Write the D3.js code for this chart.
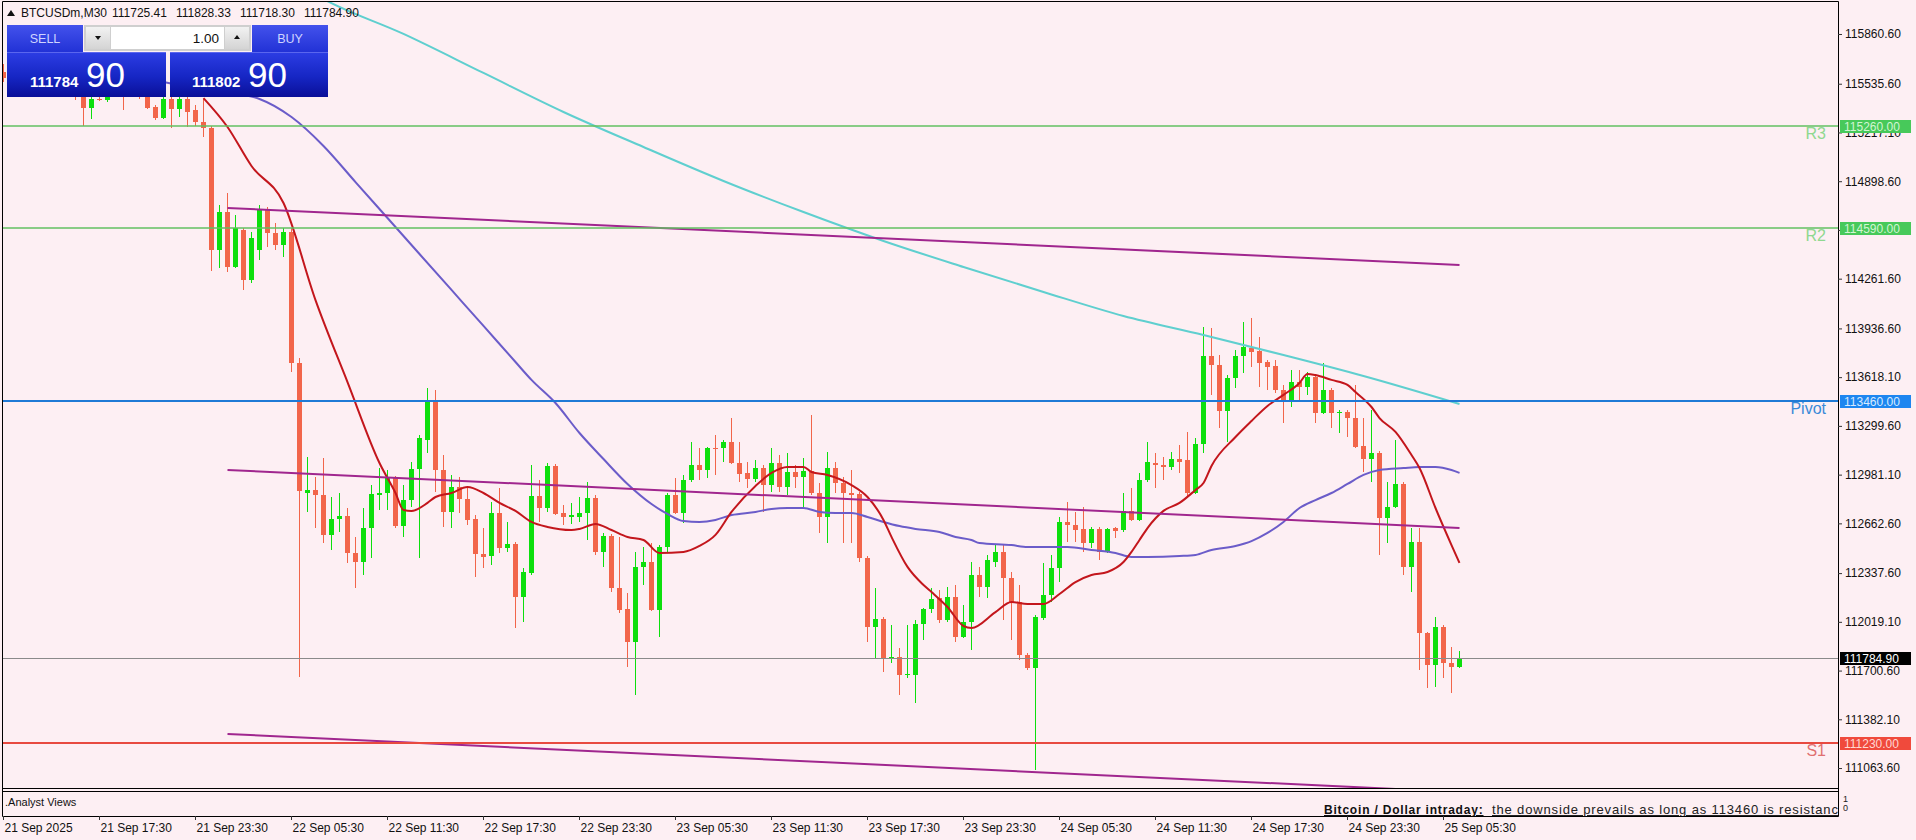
<!DOCTYPE html>
<html><head><meta charset="utf-8">
<script src="https://cdn.jsdelivr.net/npm/d3@7"></script>
<style>
html,body{margin:0;padding:0;background:#fdeff3;overflow:hidden;}
svg{display:block;}
text{font-family:"Liberation Sans",Arial,sans-serif;}
</style></head><body>
<svg id="chart" width="1916" height="840"></svg>
<script>
// ---------------- DATA ----------------
const symbolTitle = "BTCUSDm,M30";
const headerOHLC = ["111725.41","111828.33","111718.30","111784.90"];
const bidPrice = 111784.90;
const bidMain = "111784", bidPips = "90";
const askMain = "111802", askPips = "90";
const lotText = "1.00";

const timeLabels = ["21 Sep 2025","21 Sep 17:30","21 Sep 23:30","22 Sep 05:30","22 Sep 11:30","22 Sep 17:30","22 Sep 23:30","23 Sep 05:30","23 Sep 11:30","23 Sep 17:30","23 Sep 23:30","24 Sep 05:30","24 Sep 11:30","24 Sep 17:30","24 Sep 23:30","25 Sep 05:30"];
const timeLabelBars = [0,12,24,36,48,60,72,84,96,108,120,132,144,156,168,180];

const priceTicks = [115860.6,115535.6,115217.1,114898.6,114580.1,114261.6,113936.6,113618.1,113299.6,112981.1,112662.6,112337.6,112019.1,111700.6,111382.1,111063.6];

const opens = [115612,115573,115534,115560,115521,115547,115508,115495,115521,115482,
115455,115377,115436,115429,115462,115475,115455,115469,115449,115384,
115312,115436,115371,115436,115364,115286,115246,114449,114697,114338,
114580,114253,114449,114710,114560,114482,114567,113711,112861,112881,
112848,112587,112691,112711,112469,112410,112632,112848,112861,112959,
112645,112815,113018,113207,113462,113011,112737,112900,112822,112691,
112462,112449,112730,112502,112528,112182,112338,112842,112763,113038,
112730,112704,112704,112730,112828,112476,112580,112240,112103,111887,
112378,112410,112097,112508,112848,112730,112946,113044,113011,113155,
113155,113194,113057,112992,112953,113024,112913,113057,112900,112998,
112966,113005,112861,112704,113024,112926,112861,112855,112436,111985,
112038,111783,111789,111672,111672,112005,112103,112175,112031,112182,
111920,112018,112325,112247,112410,112476,112306,112149,111802,111717,
112044,112195,112371,112672,112652,112626,112534,112626,112476,112632,
112619,112743,112685,112946,113057,113044,113031,113083,113077,112861,
113181,113756,113698,113397,113613,113756,113809,113789,113717,113691,
113534,113469,113586,113554,113619,113384,113534,113384,113390,113351,
113168,113083,113122,112698,112770,112920,112378,112541,111946,111737,
111985,111750,111725.41];
const highs = [115665,115625,115586,115612,115573,115599,115560,115534,115560,115508,
115482,115462,115455,115482,115508,115495,115495,115495,115469,115397,
115455,115455,115455,115455,115397,115436,115259,114743,114822,114678,
114593,114567,114743,114730,114626,114593,114593,113743,113096,112966,
113090,112835,112861,112763,112574,112763,112913,113024,113011,112972,
112913,113064,113240,113547,113534,113109,112979,112966,112894,112717,
112632,112802,112894,112672,112541,112371,113044,112946,113057,113051,
112783,112796,112835,112933,112848,112600,112593,112574,112208,112476,
112508,112534,112521,112861,112959,112979,113194,113155,113162,113240,
113207,113351,113194,113064,113077,113044,113155,113109,113122,113044,
113090,113371,112926,113129,113064,112966,113011,112868,112449,112240,
112051,111998,111848,111998,112031,112110,112240,112227,112247,112260,
112129,112410,112378,112456,112521,112521,112345,112260,111816,112064,
112404,112456,112704,112802,112737,112770,112639,112639,112632,112639,
112861,112894,112992,113194,113122,113096,113129,113175,113260,113221,
113946,113939,113763,113632,113796,113979,114005,113881,113730,113730,
113567,113665,113665,113652,113632,113711,113547,113404,113404,113567,
113351,113404,113136,112933,113207,112933,112632,112632,111953,112051,
111998,111855,111828.33];
const lows = [115547,115508,115495,115508,115469,115495,115469,115462,115462,115429,
115259,115305,115423,115416,115449,115364,115449,115436,115371,115299,
115305,115246,115318,115253,115259,115188,114312,114331,114305,114331,
114188,114233,114384,114469,114449,114403,113652,111659,112737,112632,
112534,112489,112606,112404,112240,112325,112436,112750,112750,112632,
112574,112770,112436,113122,112868,112639,112632,112730,112652,112312,
112371,112391,112469,112476,111979,112018,112325,112672,112737,112717,
112652,112659,112672,112554,112456,112378,112214,112077,111724,111541,
112260,112090,111920,112476,112724,112665,112933,112946,112959,112979,
113064,113051,112933,112894,112933,112737,112868,112868,112848,112894,
112770,112848,112600,112534,112861,112534,112534,112410,111887,111783,
111691,111750,111541,111652,111489,111900,112077,112012,112018,111887,
111914,111835,112182,112175,112378,112031,111900,111770,111704,111051,
112031,112149,112279,112541,112541,112476,112502,112423,112469,112567,
112606,112678,112678,112933,112894,112946,113011,112992,112828,112855,
113122,113502,113286,113194,113547,113645,113685,113554,113534,113515,
113319,113423,113469,113502,113319,113377,113286,113253,113227,113155,
112998,112933,112456,112534,112763,112325,112214,111704,111587,111593,
111652,111554,111718.30];
const closes = [115573,115534,115560,115521,115547,115508,115495,115521,115482,115469,
115377,115436,115429,115462,115475,115455,115469,115455,115377,115312,
115436,115371,115436,115351,115286,115246,114449,114697,114338,114593,
114253,114528,114710,114560,114482,114567,113711,112874,112881,112848,
112587,112691,112711,112469,112410,112632,112855,112861,112959,112645,
112815,113018,113221,113462,113011,112737,112900,112822,112685,112462,
112443,112730,112502,112528,112182,112345,112842,112763,113038,112724,
112704,112717,112730,112828,112476,112580,112240,112097,111887,112378,
112410,112097,112508,112848,112730,112946,113044,113011,113155,113149,
113194,113057,112985,112953,113024,112913,113057,112900,112998,112966,
113005,112861,112704,113024,112926,112861,112848,112436,111985,112038,
111783,111789,111672,111678,112005,112103,112168,112031,112182,111920,
112018,112325,112247,112423,112476,112306,112149,111802,111717,112051,
112195,112371,112672,112652,112619,112534,112626,112476,112626,112613,
112743,112685,112946,113064,113044,113031,113083,113064,112861,113181,
113756,113698,113397,113613,113756,113815,113783,113711,113685,113534,
113469,113586,113554,113619,113384,113534,113384,113390,113351,113162,
113083,113122,112698,112770,112920,112378,112541,111946,111737,111985,
111750,111724,111784.90];

// moving averages: [bar index, price]
const maFast = [[25,115442],[28,115253],[31,114998],[35,114756],[39,114122],[43,113586],[47,113057],[49,112861],[50,112750],[51,112744],[53,112796],[54,112835],[56,112861],[58,112900],[60,112861],[62,112796],[64,112744],[66,112672],[68,112639],[71,112619],[72,112626],[74,112659],[76,112619],[78,112574],[80,112554],[82,112469],[85,112476],[87,112515],[89,112587],[91,112737],[94,112907],[96,112992],[98,113031],[100,113031],[101,112998],[103,112979],[106,112913],[108,112835],[110,112685],[111,112574],[113,112378],[115,112260],[116,112214],[118,112116],[120,111992],[121,111979],[124,112083],[126,112149],[128,112136],[130,112136],[132,112201],[134,112279],[136,112325],[138,112345],[140,112410],[141,112476],[142,112554],[143,112632],[145,112744],[147,112796],[149,112881],[150,112926],[151,113038],[154,113227],[156,113332],[158,113430],[160,113502],[162,113580],[163,113639],[164,113632],[166,113600],[168,113567],[169,113521],[171,113423],[172,113351],[174,113260],[176,113109],[177,113024],[179,112763],[181,112521],[182,112404]];
const maMid = [[20,115547],[24,115508],[28,115475],[32,115436],[36,115318],[40,115129],[44,114893],[48,114658],[52,114423],[56,114188],[60,113953],[64,113717],[66,113600],[69,113449],[72,113253],[75,113083],[78,112920],[81,112789],[83,112724],[85,112678],[87,112672],[89,112685],[91,112717],[94,112737],[96,112757],[98,112763],[100,112763],[102,112737],[104,112730],[106,112730],[108,112704],[110,112672],[112,112645],[114,112626],[117,112606],[119,112574],[121,112554],[122,112534],[126,112521],[128,112508],[133,112508],[136,112489],[139,112469],[141,112443],[143,112443],[147,112449],[149,112456],[151,112489],[154,112515],[156,112547],[158,112600],[160,112672],[162,112763],[164,112815],[166,112861],[168,112920],[170,112979],[172,113011],[175,113024],[177,113031],[179,113031],[181,113011],[182,112992]];
const maSlow = [[35,116246],[40,116089],[50,115861],[60,115606],[70,115351],[80,115122],[90,114900],[100,114697],[110,114508],[120,114338],[130,114175],[140,114018],[150,113894],[160,113763],[170,113626],[182,113443]];

// regression channel (start bar, price) -> (end bar, price)
const channelUpper = [[28,114724],[182,114351]];
const channelMiddle = [[28,113012],[182,112633]];
const channelLower = [[28,111286],[182,110907]];

const levelNames = ["R3","R2","Pivot","S1"];
const levelValues = [115260,114590,113460,111230];
const levelColors = ["#62c062","#62c062","#1f7ad6","#e84a40"];
const levelTextColors = ["#8fd88f","#8fd88f","#3b8ad8","#e07070"];
const levelBoxColors = ["#47c95a","#47c95a","#1e86f0","#f04a3c"];
const levelBoxText = ["#d2f5d2","#d2f5d2","#d6eaff","#ffd8d2"];

const subTitle = ".Analyst Views";
const commentBold = "Bitcoin / Dollar intraday:";
const commentText = "the downside prevails as long as 113460 is resistance";

// ---------------- LAYOUT ----------------
const W = 1916, H = 840;
const L = 3, R = 1838, T = 2, B = 788;
const subTop = 791, subBot = 816;
const bg = "#fdeff3";
const bullColor = "#0ddf0d", bearColor = "#f2654a";

const svg = d3.select("#chart");
const x = d3.scaleLinear().domain([0, (R - L) / 8]).range([L, R]);
const y = d3.scaleLinear().domain([110933.2, 116069.7]).range([B, T]);
const fmt = d3.format(".2f");

svg.append("rect").attr("width", W).attr("height", H).attr("fill", bg);

const defs = svg.append("defs");
defs.append("clipPath").attr("id", "plotClip").append("rect")
  .attr("x", L).attr("y", T).attr("width", R - L).attr("height", B - T);
defs.append("clipPath").attr("id", "subClip").append("rect")
  .attr("x", L).attr("y", subTop).attr("width", R - L).attr("height", subBot - subTop);
const g1 = defs.append("linearGradient").attr("id", "btnGrad").attr("x1", 0).attr("x2", 0).attr("y1", 0).attr("y2", 1);
g1.append("stop").attr("offset", "0%").attr("stop-color", "#4352ec");
g1.append("stop").attr("offset", "100%").attr("stop-color", "#2232d6");
const g2 = defs.append("linearGradient").attr("id", "boxGrad").attr("x1", 0).attr("x2", 0).attr("y1", 0).attr("y2", 1);
g2.append("stop").attr("offset", "0%").attr("stop-color", "#2c3de4");
g2.append("stop").attr("offset", "55%").attr("stop-color", "#1626c4");
g2.append("stop").attr("offset", "100%").attr("stop-color", "#0a0f98");
const g3 = defs.append("linearGradient").attr("id", "spinGrad").attr("x1", 0).attr("x2", 0).attr("y1", 0).attr("y2", 1);
g3.append("stop").attr("offset", "0%").attr("stop-color", "#f2f2f2");
g3.append("stop").attr("offset", "100%").attr("stop-color", "#d4d4d4");

const plot = svg.append("g").attr("clip-path", "url(#plotClip)");

// candles
const bars = d3.range(opens.length).map(i => ({i, o: opens[i], h: highs[i], l: lows[i], c: closes[i]}));
const cg = plot.append("g");
bars.forEach(d => {
  const cx = Math.round(x(d.i));
  const col = d.c >= d.o ? bullColor : bearColor;
  const yh = Math.round(y(d.h)), yl = Math.round(y(d.l));
  cg.append("rect").attr("x", cx).attr("y", yh).attr("width", 1).attr("height", Math.max(1, yl - yh)).attr("fill", col);
  const yo = Math.round(y(d.o)), yc = Math.round(y(d.c));
  const top = Math.min(yo, yc), hgt = Math.max(1, Math.abs(yo - yc));
  cg.append("rect").attr("x", cx - 2).attr("y", top).attr("width", 5).attr("height", hgt).attr("fill", col);
});

// moving averages
const maLine = d3.line().x(d => x(d[0]) + 0.5).y(d => y(d[1])).curve(d3.curveMonotoneX);
plot.append("path").datum(maSlow).attr("d", maLine).attr("fill", "none").attr("stroke", "#5fcfcf").attr("stroke-width", 2);
plot.append("path").datum(maMid).attr("d", maLine).attr("fill", "none").attr("stroke", "#6b5cc9").attr("stroke-width", 2);
plot.append("path").datum(maFast).attr("d", maLine).attr("fill", "none").attr("stroke", "#c3161c").attr("stroke-width", 2);

// channel lines
const straight = d3.line().x(d => x(d[0]) + 0.5).y(d => y(d[1]));
[channelUpper, channelMiddle, channelLower].forEach(c => {
  plot.append("path").datum(c).attr("d", straight).attr("fill", "none").attr("stroke", "#a0268e").attr("stroke-width", 2);
});

// horizontal levels
levelValues.forEach((v, i) => {
  const yy = Math.round(y(v));
  plot.append("line").attr("x1", L).attr("x2", R).attr("y1", yy).attr("y2", yy)
    .attr("stroke", levelColors[i]).attr("stroke-width", i < 2 ? 1.5 : 2);
  svg.append("text").attr("x", 1826).attr("y", yy + 13).attr("text-anchor", "end")
    .attr("font-size", 16).attr("fill", levelTextColors[i]).text(levelNames[i]);
});
// bid line
const yb = Math.round(y(bidPrice)) + 0.5;
plot.append("line").attr("x1", L).attr("x2", R).attr("y1", yb).attr("y2", yb).attr("stroke", "#8a8a8a").attr("stroke-width", 1);

// frame
const frame = svg.append("g").attr("fill", "none").attr("stroke", "#000").attr("stroke-width", 1);
frame.append("line").attr("x1", 2.5).attr("x2", 2.5).attr("y1", 1.5).attr("y2", subBot + 0.5);
frame.append("line").attr("x1", 2.5).attr("x2", R + 0.5).attr("y1", 1.5).attr("y2", 1.5);
frame.append("line").attr("x1", 2.5).attr("x2", R + 0.5).attr("y1", B + 0.5).attr("y2", B + 0.5);
frame.append("line").attr("x1", 2.5).attr("x2", R + 0.5).attr("y1", subTop + 0.5).attr("y2", subTop + 0.5);
frame.append("line").attr("x1", 2.5).attr("x2", R + 0.5).attr("y1", subBot + 0.5).attr("y2", subBot + 0.5);

// price axis
const yAxis = d3.axisRight(y).tickValues(priceTicks).tickFormat(fmt).tickSize(4).tickPadding(3);
const ya = svg.append("g").attr("transform", `translate(${R},0)`).call(yAxis);
ya.select(".domain").attr("d", `M0.5,1.5V${subBot + 0.5}`).attr("stroke", "#000");
ya.selectAll("text").attr("font-size", 12).attr("font-family", "Liberation Sans, Arial, sans-serif").attr("fill", "#111");
ya.selectAll(".tick line").attr("stroke", "#333");

// level price boxes
levelValues.forEach((v, i) => {
  const yy = Math.round(y(v));
  svg.append("rect").attr("x", R + 2).attr("y", yy - 6).attr("width", 71).attr("height", 13).attr("fill", levelBoxColors[i]);
  svg.append("text").attr("x", R + 6).attr("y", yy + 5).attr("font-size", 12).attr("fill", levelBoxText[i]).text(fmt(v));
});
svg.append("rect").attr("x", R + 2).attr("y", yb - 6.5).attr("width", 71).attr("height", 13).attr("fill", "#000");
svg.append("text").attr("x", R + 6).attr("y", yb + 4.5).attr("font-size", 12).attr("fill", "#fff").text(fmt(bidPrice));

// sub window
svg.append("text").attr("x", 5).attr("y", 806).attr("font-size", 11).attr("fill", "#111").text(subTitle);
const sub = svg.append("g").attr("clip-path", "url(#subClip)");
sub.append("text").attr("x", 1324).attr("y", 814).attr("font-size", 12).attr("font-weight", "bold")
  .attr("letter-spacing", "0.8px")
  .attr("fill", "#111").attr("text-decoration", "underline").text(commentBold);
sub.append("text").attr("x", 1492).attr("y", 814).attr("font-size", 13).attr("fill", "#222")
  .attr("letter-spacing", "0.85px")
  .attr("text-decoration", "underline").text(commentText);
svg.append("text").attr("x", 1843).attr("y", 802).attr("font-size", 9).attr("fill", "#222").text("1");
svg.append("text").attr("x", 1843).attr("y", 811).attr("font-size", 9).attr("fill", "#222").text("0");

// time axis
const xAxis = d3.axisBottom(x).tickValues(timeLabelBars).tickFormat((d, i) => timeLabels[i]).tickSize(4).tickPadding(3);
const xa = svg.append("g").attr("transform", `translate(0,${subBot})`).call(xAxis);
xa.select(".domain").remove();
xa.selectAll("text").attr("font-size", 12).attr("font-family", "Liberation Sans, Arial, sans-serif")
  .attr("fill", "#111").attr("text-anchor", "start").attr("dx", 1);
xa.selectAll(".tick line").attr("stroke", "#333");

// header
svg.append("path").attr("d", "M7,16L11,10L15,16Z").attr("fill", "#111");
svg.append("text").attr("x", 21).attr("y", 17).attr("font-size", 12).attr("fill", "#111").text(symbolTitle);
const hdrX = [112, 176, 240, 304];
headerOHLC.forEach((t, i) => svg.append("text").attr("x", hdrX[i]).attr("y", 17).attr("font-size", 12).attr("fill", "#111").text(t));

// one-click trading panel
const p = svg.append("g");
p.append("rect").attr("x", 7).attr("y", 25).attr("width", 76).attr("height", 27).attr("fill", "url(#btnGrad)");
p.append("rect").attr("x", 252).attr("y", 25).attr("width", 76).attr("height", 27).attr("fill", "url(#btnGrad)");
p.append("text").attr("x", 45).attr("y", 43).attr("text-anchor", "middle").attr("font-size", 12.5).attr("fill", "#cfd4ff").text("SELL");
p.append("text").attr("x", 290).attr("y", 43).attr("text-anchor", "middle").attr("font-size", 12.5).attr("fill", "#cfd4ff").text("BUY");
p.append("rect").attr("x", 84).attr("y", 25).attr("width", 167).attr("height", 26).attr("fill", "#cfcfcf");
p.append("rect").attr("x", 86).attr("y", 27).attr("width", 24).attr("height", 22).attr("fill", "url(#spinGrad)");
p.append("rect").attr("x", 225).attr("y", 27).attr("width", 24).attr("height", 22).attr("fill", "url(#spinGrad)");
p.append("rect").attr("x", 111).attr("y", 27).attr("width", 113).attr("height", 22).attr("fill", "#ffffff");
p.append("path").attr("d", "M95,36L101,36L98,40Z").attr("fill", "#111");
p.append("path").attr("d", "M234,39L240,39L237,35Z").attr("fill", "#111");
p.append("text").attr("x", 219).attr("y", 43).attr("text-anchor", "end").attr("font-size", 13.5).attr("fill", "#111").text(lotText);
p.append("rect").attr("x", 7).attr("y", 52).attr("width", 159).attr("height", 45).attr("fill", "url(#boxGrad)");
p.append("rect").attr("x", 170).attr("y", 52).attr("width", 158).attr("height", 45).attr("fill", "url(#boxGrad)");
p.append("line").attr("x1", 7).attr("x2", 166).attr("y1", 52.5).attr("y2", 52.5).attr("stroke", "#5a66ee");
p.append("line").attr("x1", 170).attr("x2", 328).attr("y1", 52.5).attr("y2", 52.5).attr("stroke", "#5a66ee");
p.append("text").attr("x", 30).attr("y", 87).attr("font-size", 15).attr("font-weight", "bold").attr("fill", "#fff").text(bidMain);
p.append("text").attr("x", 86).attr("y", 87).attr("font-size", 35).attr("fill", "#fff").text(bidPips);
p.append("text").attr("x", 192).attr("y", 87).attr("font-size", 15).attr("font-weight", "bold").attr("fill", "#fff").text(askMain);
p.append("text").attr("x", 248).attr("y", 87).attr("font-size", 35).attr("fill", "#fff").text(askPips);
</script>
</body></html>
